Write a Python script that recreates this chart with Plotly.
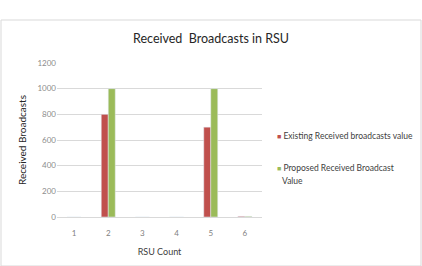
import plotly.graph_objects as go

categories = ["1", "2", "3", "4", "5", "6"]
existing = [0, 800, 0, 0, 700, 5]
proposed = [0, 1000, 0, 0, 1000, 5]
y_ticks = [0, 200, 400, 600, 800, 1000, 1200]
series_names = ["Existing Received broadcasts value", "Proposed Received Broadcast"]
series_name_cont = ["", "Value"]
series_colors = ["#C0504D", "#9BBB59"]

W, H = 422, 266
L, R, T, B = 57, 160, 63, 49
pw = W - L - R
ph = H - T - B

def px(x):
    return (x - L) / pw

def py(y):
    return (H - B - y) / ph

fig = go.Figure()
fig.add_trace(go.Bar(x=categories, y=existing, name=series_names[0],
                     marker_color=series_colors[0]))
fig.add_trace(go.Bar(x=categories, y=proposed, name=series_names[1] + " " + series_name_cont[1],
                     marker_color=series_colors[1]))

fig.update_layout(
    width=W, height=H,
    margin=dict(l=L, r=R, t=T, b=B, autoexpand=False),
    paper_bgcolor="white", plot_bgcolor="white",
    font=dict(family="Lato", color="#595959", size=8),
    barmode="group", bargap=0.59, bargroupgap=0,
    title=dict(text="Received  Broadcasts in RSU", x=0.5, xref="container",
               y=1 - 39 / H, yref="container", xanchor="center", yanchor="middle",
               font=dict(size=12.5, color="#262626", family="Lato")),
    xaxis=dict(showgrid=False, showline=True, linecolor="#d9d9d9", linewidth=1,
               ticks="", tickfont=dict(size=8, color="#7f7f7f"), ticklabelstandoff=8,
               automargin=False,
               title=dict(text="RSU Count", font=dict(size=9, color="#404040"), standoff=12)),
    yaxis=dict(range=[0, 1200], tickvals=y_ticks, showgrid=True, gridcolor="#d9d9d9",
               gridwidth=1, zeroline=False, showline=False, ticks="", automargin=False,
               tickfont=dict(size=8, color="#8c8c8c"),
               title=dict(text="Received Broadcasts", font=dict(size=10, color="#262626"), standoff=8)),
    showlegend=False,
)

# legend drawn as text annotations
leg_y = [136, 168]
for name, cont, color, yy in zip(series_names, series_name_cont, series_colors, leg_y):
    fig.add_annotation(xref="paper", yref="paper", x=px(275), y=py(yy),
                       xanchor="left", yanchor="middle", align="left", showarrow=False,
                       text=f"<span style='color:{color};font-size:7px'>■</span> {name}",
                       font=dict(size=8.5, color="#404040", family="Lato"))
    if cont:
        fig.add_annotation(xref="paper", yref="paper", x=px(280), y=py(yy + 13),
                           xanchor="left", yanchor="middle", align="left", showarrow=False,
                           text=cont, font=dict(size=8.5, color="#404040", family="Lato"))

fig.add_shape(type="rect", xref="paper", yref="paper",
              x0=px(1), x1=px(421), y0=py(266), y1=py(20),
              line=dict(color="#d9d9d9", width=1), fillcolor="rgba(0,0,0,0)", layer="below")

fig.write_html("out.html")
